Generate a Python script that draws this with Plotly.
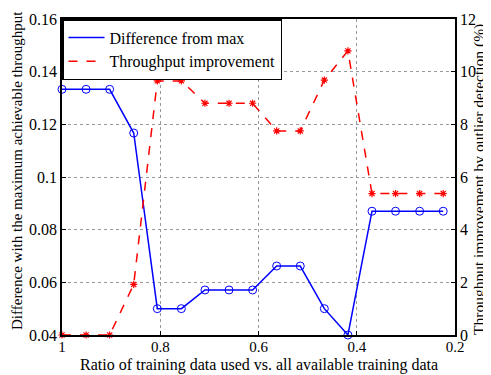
import plotly.graph_objects as go

ratio = [1.0, 0.951, 0.903, 0.854, 0.806, 0.757, 0.709, 0.660, 0.612,
         0.563, 0.515, 0.466, 0.418, 0.369, 0.321, 0.272, 0.224]
diff_from_max = [0.1333, 0.1333, 0.1333, 0.1167, 0.050, 0.050, 0.0571, 0.0571, 0.0571,
                 0.0662, 0.0662, 0.050, 0.040, 0.0870, 0.0870, 0.0870, 0.0870]
throughput_impr = [0.0, 0.0, 0.0, 1.92, 9.65, 9.65, 8.8, 8.8, 8.8,
                   7.75, 7.75, 9.68, 10.79, 5.37, 5.37, 5.37, 5.37]

x_ticks = [1, 0.8, 0.6, 0.4, 0.2]
x_ticklabels = ["1", "0.8", "0.6", "0.4", "0.2"]
y_left_ticks = [0.04, 0.06, 0.08, 0.1, 0.12, 0.14, 0.16]
y_left_labels = ["0.04", "0.06", "0.08", "0.1", "0.12", "0.14", "0.16"]
y_right_ticks = [0, 2, 4, 6, 8, 10, 12]

FONT = "Liberation Serif"

fig = go.Figure()
fig.add_trace(go.Scatter(
    x=ratio, y=diff_from_max, mode="lines+markers", name="Difference from max",
    line=dict(color="#0000ff", width=1.5),
    marker=dict(symbol="circle-open", size=8, color="#0000ff", line=dict(width=1)),
    showlegend=False, cliponaxis=False))
fig.add_trace(go.Scatter(
    x=ratio, y=throughput_impr, mode="lines+markers", name="Throughput improvement",
    line=dict(color="#ff0000", width=1.5, dash="dash"),
    marker=dict(symbol="asterisk-open", size=6, color="#ff0000", line=dict(width=1.2, color="#ff0000")),
    yaxis="y2", showlegend=False, cliponaxis=False))
# legend-only entries (lines only)
fig.add_trace(go.Scatter(x=[None], y=[None], mode="lines", name="Difference from max",
                         line=dict(color="#0000ff", width=1.5)))
fig.add_trace(go.Scatter(x=[None], y=[None], mode="lines", name="Throughput improvement",
                         line=dict(color="#ff0000", width=1.5, dash="dash")))

axis_common = dict(showline=True, linecolor="black", linewidth=1.5, ticks="inside",
                   ticklen=4, tickcolor="black", zeroline=False, automargin=False)

fig.update_layout(
    width=483, height=367,
    margin=dict(l=54, r=36, t=11, b=40),
    paper_bgcolor="white", plot_bgcolor="white",
    font=dict(family=FONT, size=16, color="black"),
    xaxis=dict(range=[1, 0.2], tickvals=x_ticks, ticktext=x_ticklabels, mirror=True,
               showgrid=True, gridcolor="#999999", griddash="dot", gridwidth=1,
               tickfont=dict(family=FONT, size=15, color="black"), ticklabelstandoff=-3,
               **axis_common),
    yaxis=dict(range=[0.04, 0.16], tickvals=y_left_ticks, ticktext=y_left_labels,
               showgrid=True, gridcolor="#999999", griddash="dot", gridwidth=1,
               tickfont=dict(family=FONT, size=16, color="black"),
               **axis_common),
    yaxis2=dict(range=[0, 12], tickvals=y_right_ticks, overlaying="y", side="right",
                showgrid=False, tickfont=dict(family=FONT, size=16, color="black"),
                **axis_common),
    legend=dict(x=0, y=1, xanchor="left", yanchor="top", bgcolor="white",
                bordercolor="black", borderwidth=1.5,
                font=dict(family=FONT, size=16), tracegroupgap=0, itemwidth=36),
    annotations=[
        dict(text="Ratio of training data used vs. all available training data",
             xref="paper", yref="paper", x=0.5, y=0, xanchor="center", yanchor="middle",
             yshift=-30, showarrow=False, font=dict(family=FONT, size=16)),
        dict(text="Difference with the maximum achievable throughput",
             xref="paper", yref="paper", x=0, y=0.5, xanchor="center", yanchor="middle",
             xshift=-45, yshift=6, textangle=-90, showarrow=False,
             font=dict(family=FONT, size=15)),
        dict(text="Throughput improvement by outlier detection (%)",
             xref="paper", yref="paper", x=1, y=0.5, xanchor="center", yanchor="middle",
             xshift=24, yshift=-3, textangle=-90, showarrow=False,
             font=dict(family=FONT, size=15.5)),
    ],
)

fig.write_html("out.html")
